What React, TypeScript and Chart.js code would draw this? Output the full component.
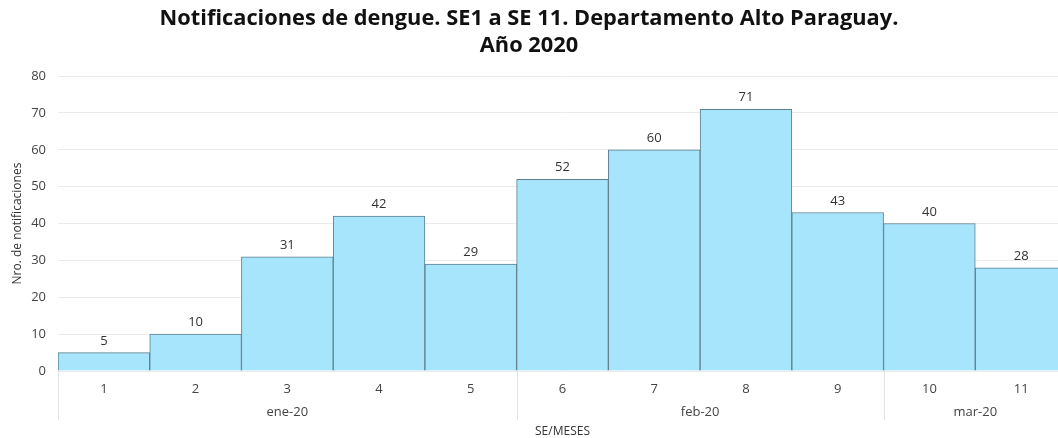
import React, { useEffect, useRef } from "react";
import { Chart, registerables } from "chart.js";

Chart.register(...registerables);

const weeks: string[] = ["1", "2", "3", "4", "5", "6", "7", "8", "9", "10", "11"];
const notifications: number[] = [5, 10, 31, 42, 29, 52, 60, 71, 43, 40, 28];
const monthLabels: string[] = ["ene-20", "feb-20", "mar-20"];
const monthWeekCounts: number[] = [5, 4, 2];
const titleLines: string[] = [
  "Notificaciones de dengue. SE1 a SE 11. Departamento Alto Paraguay.",
  "Año 2020",
];
const yAxisTitle = "Nro. de notificaciones";
const xAxisTitle = "SE/MESES";

const FONT = "'Open Sans', 'Noto Sans', sans-serif";
const VIEW_W = 1058;
const CANVAS_W = 1067;
const CANVAS_H = 438;

const valueLabelPlugin = {
  id: "valueLabels",
  afterDatasetsDraw(chart: any) {
    const ctx = chart.ctx;
    const meta = chart.getDatasetMeta(0);
    ctx.save();
    ctx.font = `13px ${FONT}`;
    ctx.fillStyle = "#333333";
    ctx.textAlign = "center";
    ctx.textBaseline = "bottom";
    meta.data.forEach((bar: any, i: number) => {
      ctx.fillText(String(notifications[i]), bar.x, bar.y - 5);
    });
    ctx.restore();
  },
};

const monthGroupPlugin = {
  id: "monthGroups",
  afterDraw(chart: any) {
    const ctx = chart.ctx;
    const xs = chart.scales.x;
    const half = (xs.getPixelForValue(1) - xs.getPixelForValue(0)) / 2;
    const top = xs.top;
    ctx.save();
    ctx.strokeStyle = "#e4e4e4";
    ctx.lineWidth = 1;
    ctx.font = `13px ${FONT}`;
    ctx.fillStyle = "#444444";
    ctx.textAlign = "center";
    ctx.textBaseline = "middle";
    let start = 0;
    monthLabels.forEach((m, gi) => {
      const end = start + monthWeekCounts[gi] - 1;
      const left = xs.getPixelForValue(start) - half;
      const right = xs.getPixelForValue(end) + half;
      const lx = Math.round(left) + 0.5;
      ctx.beginPath();
      ctx.moveTo(lx, top);
      ctx.lineTo(lx, top + 49);
      ctx.stroke();
      ctx.fillText(m, (left + right) / 2, top + 41);
      start = end + 1;
    });
    ctx.restore();
  },
};

// keep the title centred on the visible (cropped) width
const titleCenterPlugin = {
  id: "titleCenter",
  afterLayout(chart: any) {
    const tb = chart.titleBlock;
    if (tb) {
      tb.left = 0;
      tb.right = VIEW_W;
      tb.width = VIEW_W;
    }
  },
};

export default function App() {
  const ref = useRef<HTMLCanvasElement | null>(null);
  useEffect(() => {
    if (!ref.current) return;
    const chart = new Chart(ref.current, {
      type: "bar",
      data: {
        labels: weeks,
        datasets: [
          {
            data: notifications,
            backgroundColor: "#a6e5fc",
            borderColor: "#5e7f8e",
            borderWidth: 1,
            barPercentage: 1,
            categoryPercentage: 1,
          },
        ],
      },
      options: {
        responsive: false,
        animation: false,
        layout: { padding: 0 },
        plugins: {
          legend: { display: false },
          tooltip: { enabled: false },
          title: {
            display: true,
            text: titleLines,
            color: "#111111",
            font: { family: FONT, size: 21.8, weight: "bold", lineHeight: 1.24 },
            padding: { top: 5, bottom: 17 },
          },
        },
        scales: {
          x: {
            grid: { display: false, drawTicks: false },
            border: { display: false },
            ticks: {
              color: "#444444",
              font: { family: FONT, size: 13 },
              padding: 10,
              maxRotation: 0,
            },
            title: {
              display: true,
              text: xAxisTitle,
              color: "#333333",
              font: { family: FONT, size: 12 },
              padding: { top: 0, bottom: -1 },
            },
            afterFit(scale: any) {
              scale.height = 67;
            },
          },
          y: {
            min: 0,
            max: 80,
            ticks: {
              stepSize: 10,
              color: "#444444",
              font: { family: FONT, size: 13 },
              padding: 12,
            },
            grid: { color: "#ebebeb", drawTicks: false },
            border: { display: false },
            title: {
              display: true,
              text: yAxisTitle,
              color: "#333333",
              font: { family: FONT, size: 12 },
              padding: { top: 10, bottom: 0 },
            },
            afterFit(scale: any) {
              scale.width = 58;
            },
          },
        },
      },
      plugins: [valueLabelPlugin, monthGroupPlugin, titleCenterPlugin],
    });
    return () => chart.destroy();
  }, []);
  return (
    <div style={{ position: "fixed", left: 0, top: 0, width: VIEW_W, height: CANVAS_H, background: "#ffffff", overflow: "hidden" }}>
      <canvas ref={ref} width={CANVAS_W} height={CANVAS_H} />
    </div>
  );
}
